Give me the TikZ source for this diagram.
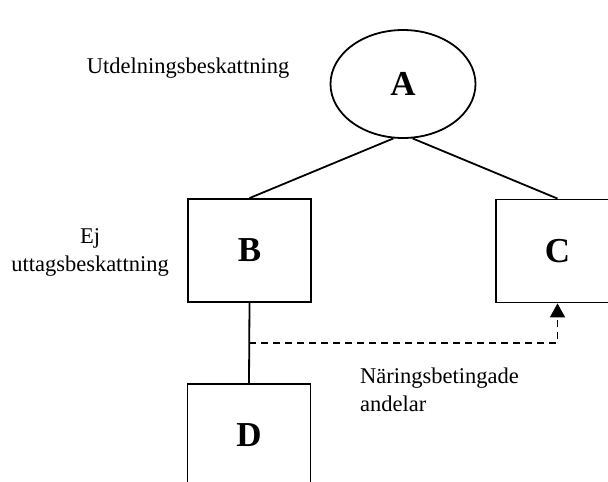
\documentclass[tikz,border=0pt]{standalone}
\usepackage{fontspec}
\setmainfont{Liberation Serif}
\usepackage{tikz}
\usetikzlibrary{arrows.meta,calc,positioning,shapes.geometric}

\begin{document}
\begin{tikzpicture}[
  x=1pt, y=-1pt,
  box/.style={draw, line width=1.8pt, minimum width=123pt, minimum height=103pt, inner sep=0pt, font=\fontsize{35}{40}\selectfont\bfseries},
  oval/.style={draw, ellipse, line width=1.8pt, minimum width=145pt, minimum height=108pt, inner sep=0pt, font=\fontsize{35}{40}\selectfont\bfseries},
  note/.style={font=\fontsize{22.5}{28}\selectfont, inner sep=0pt},
  link/.style={line width=1.8pt},
  dashline/.style={line width=1.8pt, dash pattern=on 7pt off 5pt, -{Triangle[length=14pt, width=15pt]}}
]
  \useasboundingbox (0,0) rectangle (608,482);
  \clip (0,0) rectangle (608,482);

  \node[oval] (A) at (403,84) {A};
  \node[box] (B) at (249.5,250.5) {B};
  \node[box] (C) at (557.5,251) {C};
  \node[box] (D) at (249,435.5) {D};

  \node[note] (utd) at (188,68) {Utdelningsbeskattning};
  \node[note, align=center] (uttag) at (90,252) {Ej\\uttagsbeskattning};
  \node[note, align=left, anchor=north west] (nar) at (360,368) {Näringsbetingade\\andelar};

  \coordinate (split) at ($(B.south)!0.5!(D.north)$);

  \draw[link] (A.-100) -- (B.north);
  \draw[link] (A.-80) -- (C.north);
  \draw[link] (B.south) -- (D.north);
  \draw[dashline] (split) -| (C.south);
\end{tikzpicture}
\end{document}
